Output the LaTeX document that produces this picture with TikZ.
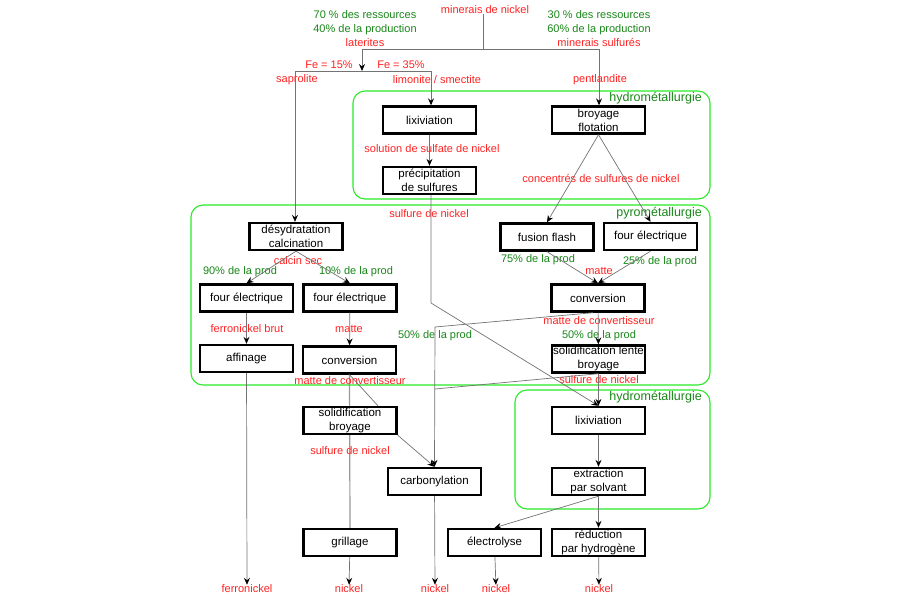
\documentclass[tikz,border=0pt]{standalone}
\usepackage{fontspec}
\setmainfont{Liberation Sans}
\usetikzlibrary{arrows.meta, positioning}
\definecolor{flowred}{RGB}{255,35,35}
\definecolor{flowgreen}{RGB}{25,135,25}
\definecolor{zonegreen}{RGB}{40,235,40}

\begin{document}
\begin{tikzpicture}[
    x=1pt, y=-1pt,
    every node/.style={font=\fontsize{11}{14}\selectfont},
    box/.style={rectangle, draw=black, line width=2.4pt, fill=white,
                minimum width=93pt, minimum height=27pt, inner sep=1pt, align=center,
                font=\fontsize{11.5}{14}\selectfont},
    lbl/.style={text=flowred, inner sep=0pt},
    pct/.style={text=flowgreen, inner sep=0pt},
    zonelbl/.style={text=flowgreen, inner sep=0pt, anchor=east, font=\fontsize{12.5}{14}\selectfont},
    zone/.style={draw=zonegreen, line width=1.1pt, rounded corners=12pt},
    link/.style={draw=black!55, line width=0.7pt},
    arr/.style={link, -{Stealth[length=7pt, width=6pt, inset=2.5pt, color=black]}}
  ]
  \useasboundingbox[fill=white] (0,0) rectangle (900,600);

  \draw[zone] (353,91) rectangle (710,199);
  \draw[zone] (191,205) rectangle (710,385);
  \draw[zone] (515,390) rectangle (710,509);
  \node[zonelbl] (zhydA) at (702,98) {hydrométallurgie};
  \node[zonelbl] (zpyro) at (702,213) {pyrométallurgie};
  \node[zonelbl] (zhydB) at (702,397) {hydrométallurgie};

  % sources
  \node[align=center, inner sep=0pt] (lat) at (365,29)
    {\textcolor{flowgreen}{70 \% des ressources}\\\textcolor{flowgreen}{40\% de la production}\\\textcolor{flowred}{laterites}};
  \node[align=center, inner sep=0pt] (sulf) at (599,29)
    {\textcolor{flowgreen}{30 \% des ressources}\\\textcolor{flowgreen}{60\% de la production}\\\textcolor{flowred}{minerais sulfurés}};
  \node[lbl] (minerai) at (485,10) {minerais de nickel};
  \node[lbl] (fe15) at (329,65) {Fe = 15\%};
  \node[lbl] (fe35) at (401,65) {Fe = 35\%};
  \node[lbl] (sapro) at (297,80) {saprolite};
  \node[lbl] (limo) at (437,80) {limonite / smectite};
  \node[lbl] (pent) at (600,80) {pentlandite};

  \coordinate (jTop) at (483,49);
  \coordinate (jLat) at (362,49);
  \coordinate (jSul) at (599,49);
  \coordinate (jFe) at (362,71);
  \coordinate (jSap) at (295,71);
  \coordinate (jLim) at (431,71);
  \coordinate (kPrec) at (431,303);
  \coordinate (kCarb) at (435,327);
  \coordinate (kSolL) at (435,389);

  % boxes
  \node[box] (lixA) at (429.5,120) {lixiviation};
  \node[box] (broy) at (598.5,120) {broyage\\flotation};
  \node[box] (prec) at (429.5,180.5) {précipitation\\de sulfures};
  \node[box] (desh) at (296,236.5) {désydratation\\calcination};
  \node[box] (fusion) at (547,237) {fusion flash};
  \node[box] (fourR) at (650.5,236.5) {four électrique};
  \node[box] (fourA) at (246.5,298) {four électrique};
  \node[box, right=8pt of fourA] (fourB) {four électrique};
  \node[box] (convR) at (598,298) {conversion};
  \node[box] (affin) at (246.5,358.5) {affinage};
  \node[box] (convL) at (349.5,360) {conversion};
  \node[box] (gril) at (350,542.5) {grillage};
  \draw[link, line width=1.2pt, draw=black!40] (convL.south) -- (gril.north);
  \node[box] (solB) at (350,420.5) {solidification\\broyage};
  \node[box] (solL) at (598.5,359) {solidification lente\\broyage};
  \node[box] (lixB) at (598.5,420.5) {lixiviation};
  \node[box] (extr) at (598.5,481.5) {extraction\\par solvant};
  \node[box] (carbo) at (434.5,481.5) {carbonylation};
  \node[box] (elec) at (494.5,542.5) {électrolyse};
  \node[box] (redu) at (598.5,542.5) {réduction\\par hydrogène};

  % products
  \node[lbl] (oFerro) at (247,589) {ferronickel};
  \node[lbl] (oGril) at (349,589) {nickel};
  \node[lbl] (oCarb) at (435,589) {nickel};
  \node[lbl] (oElec) at (496,589) {nickel};
  \node[lbl] (oRedu) at (599,589) {nickel};

  % stream labels
  \node[lbl] (solut) at (432,149) {solution de sulfate de nickel};
  \node[lbl] (conc) at (601,178) {concentrés de sulfures de nickel};
  \node[lbl] (sulfA) at (429,214) {sulfure de nickel};
  \node[lbl] (calcin) at (298,261) {calcin sec};
  \node[pct] (p90) at (240,272) {90\% de la prod};
  \node[pct] (p10) at (356,272) {10\% de la prod};
  \node[pct] (p75) at (538,260) {75\% de la prod};
  \node[lbl] (matteR) at (599,271) {matte};
  \node[pct] (p25) at (660,262) {25\% de la prod};
  \node[lbl] (ferBrut) at (247,329) {ferronickel brut};
  \node[lbl] (matteL) at (349,329) {matte};
  \node[lbl] (mconvL) at (350,381) {matte de convertisseur};
  \node[lbl] (mconvR) at (599,321) {matte de convertisseur};
  \node[pct] (p50R) at (599,336) {50\% de la prod};
  \node[pct] (p50L) at (435,336) {50\% de la prod};
  \node[lbl] (sulfR) at (599,380) {sulfure de nickel};
  \node[lbl] (sulfB) at (350,451) {sulfure de nickel};

  % connectors
  \draw[link] (minerai.south -| jTop) -- (jTop);
  \draw[link] (jLat) -- (jSul);
  \draw[arr] (jLat) -- (jFe);
  \draw[link] (jSap) -- (jLim);
  \draw[arr] (jSap) -- (jSap |- desh.north);
  \draw[arr] (jLim) -- (jLim |- lixA.north);
  \draw[arr] (jSul) -- (jSul |- broy.north);
  \draw[arr] (lixA) -- (prec);
  \draw[arr] (broy.south) -- (fusion.north);
  \draw[arr] (broy.south) -- (fourR.north);
  \draw[arr] (prec.south -| kPrec) -- (kPrec) -- (lixB.north);
  \draw[arr] (desh.south) -- (fourA.north);
  \draw[arr] (desh.south) -- (fourB.north);
  \draw[arr] (fourA) -- (affin);
  \draw[arr] (fourB) -- (convL);
  \draw[arr] (affin) -- (oFerro);
  \draw[link] (convL.south) -- ([xshift=28pt]solB.north);
  \draw[arr] (solB.south east) -- (carbo.north);
  \draw[arr] (fusion.south) -- (convR.north);
  \draw[arr] (fourR.south) -- (convR.north);
  \draw[arr] (convR) -- (solL);
  \draw[arr] ([xshift=-5pt]convR.south) -- (kCarb) -- (carbo.north);
  \draw[link] (solL.south) -- (kSolL);
  \draw[arr] (solL) -- (lixB);
  \draw[arr] (lixB) -- (extr);
  \draw[arr] (extr.south) -- (elec.north);
  \draw[arr] (extr) -- (redu);
  \draw[arr] (elec) -- (oElec);
  \draw[arr] (redu) -- (oRedu);
  \draw[arr] (carbo) -- (oCarb);
  \draw[arr] (gril) -- (oGril);
\end{tikzpicture}
\end{document}
